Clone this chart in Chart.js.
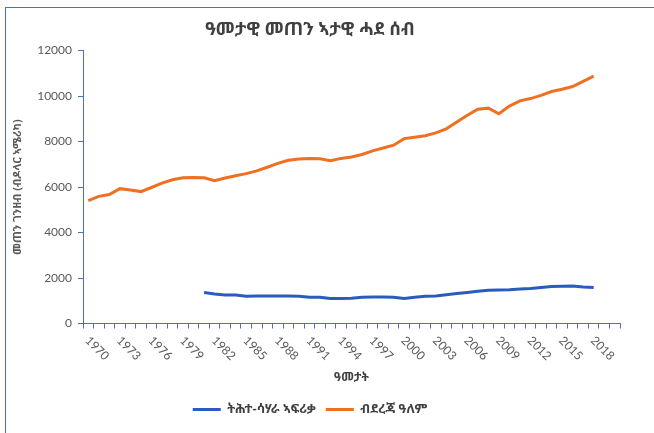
<!DOCTYPE html>
<html>
<head>
<meta charset="utf-8">
<script src="https://cdn.jsdelivr.net/npm/chart.js@4"></script>
<style>
  html, body { margin: 0; padding: 0; background: #ffffff; }
  #wrap { position: relative; width: 654px; height: 433px; overflow: hidden; }
  #frame { position: absolute; left: 5px; top: 7px; width: 700px; height: 500px; border-left: 1px solid #4472c4; border-top: 1px solid #4472c4; }
  #chart { position: absolute; left: 0; top: 0; }
</style>
</head>
<body>
<div id="wrap">
  <div id="frame"></div>
  <canvas id="chart" width="654" height="433"></canvas>
</div>
<script>
// Datos
const years = [];
for (let y = 1970; y <= 2020; y++) years.push(String(y));

const mundo = [
  5400, 5590, 5670, 5930, 5870, 5800, 5980, 6170, 6320, 6410,
  6425, 6410, 6280, 6400, 6500, 6590, 6710, 6870, 7040, 7180,
  7235, 7250, 7240, 7160, 7260, 7320, 7430, 7590, 7720, 7840,
  8130, 8190, 8260, 8380, 8560, 8860, 9160, 9420, 9470, 9220,
  9560, 9790, 9890, 10030, 10200, 10300, 10420, 10650, 10880, null, null
];

const africa = [
  null, null, null, null, null, null, null, null, null, null,
  null, 1360, 1300, 1255, 1250, 1200, 1205, 1205, 1205, 1205,
  1195, 1150, 1150, 1100, 1095, 1110, 1150, 1165, 1165, 1150,
  1100, 1150, 1195, 1210, 1265, 1320, 1365, 1420, 1465, 1470,
  1480, 1520, 1540, 1580, 1625, 1640, 1650, 1600, 1585, null, null
];

const titulo = 'ዓመታዊ መጠን ኣታዊ ሓደ ሰብ';
const tituloY = 'መጠን ገንዘብ (ብዶላር ኣሜሪካ)';
const tituloX = 'ዓመታት';
const nombreAfrica = 'ትሕተ-ሳሃራ ኣፍሪቃ';
const nombreMundo = 'ብደረጃ ዓለም';

const ETH = '"Noto Sans Ethiopic", "Abyssinica SIL", "DejaVu Sans", sans-serif';
const NUM = 'Lato, "Liberation Sans", sans-serif';
const AXIS_BLUE = '#4472c4';
const GRIS = '#595959';

// Etiquetas del eje X giradas hacia abajo (cada 3 anios)
const xLabelsPlugin = {
  id: 'xLabels',
  afterDraw(chart) {
    const scale = chart.scales.x;
    const ctx = chart.ctx;
    ctx.save();
    ctx.font = '12px ' + NUM;
    ctx.fillStyle = GRIS;
    ctx.textAlign = 'left';
    ctx.textBaseline = 'middle';
    years.forEach((label, i) => {
      if (i % 3 !== 0) return;
      const x = scale.getPixelForValue(i);
      ctx.save();
      ctx.translate(x - 1, scale.top + 15);
      ctx.rotate(Math.PI / 4);
      ctx.fillText(label, 0, 0);
      ctx.restore();
    });
    ctx.restore();
  }
};

const ctx = document.getElementById('chart').getContext('2d');

new Chart(ctx, {
  type: 'line',
  data: {
    labels: years,
    datasets: [
      {
        label: nombreAfrica,
        data: africa,
        borderColor: '#2a5cbf',
        backgroundColor: '#2a5cbf',
        borderWidth: 3,
        pointRadius: 0,
        tension: 0
      },
      {
        label: nombreMundo,
        data: mundo,
        borderColor: '#ee7020',
        backgroundColor: '#ee7020',
        borderWidth: 3,
        pointRadius: 0,
        tension: 0
      }
    ]
  },
  options: {
    responsive: false,
    animation: false,
    layout: { padding: { left: 0, right: 34, top: 0, bottom: 7 } },
    plugins: {
      title: {
        display: true,
        text: titulo,
        color: '#404040',
        font: { family: ETH, size: 18, weight: 'bold' },
        padding: { top: 19, bottom: 10 }
      },
      legend: {
        position: 'bottom',
        labels: {
          usePointStyle: true,
          pointStyle: 'line',
          pointStyleWidth: 28,
          color: '#404040',
          font: { family: ETH, size: 13, weight: 'bold' },
          padding: 10
        }
      },
      tooltip: { enabled: false }
    },
    scales: {
      x: {
        type: 'category',
        offset: true,
        grid: { offset: true, drawOnChartArea: false, color: AXIS_BLUE, tickLength: 5 },
        border: { color: AXIS_BLUE },
        ticks: { display: false, autoSkip: false },
        title: {
          display: true,
          text: tituloX,
          color: '#404040',
          font: { family: ETH, size: 12, weight: 'bold' },
          padding: { top: 0, bottom: 8 }
        },
        afterFit(scale) { scale.height = 69.5; }
      },
      y: {
        min: 0,
        max: 12000,
        grid: { drawOnChartArea: false, color: AXIS_BLUE, tickLength: 5 },
        border: { color: AXIS_BLUE },
        ticks: {
          stepSize: 2000,
          color: GRIS,
          padding: 6,
          font: { family: NUM, size: 12 },
          callback: (value) => String(value)
        },
        title: {
          display: true,
          text: tituloY,
          color: GRIS,
          font: { family: ETH, size: 11, weight: 'bold' },
          padding: { top: 11, bottom: 0 }
        },
        afterFit(scale) { scale.width = 83; }
      }
    }
  },
  plugins: [xLabelsPlugin]
});
</script>
</body>
</html>
